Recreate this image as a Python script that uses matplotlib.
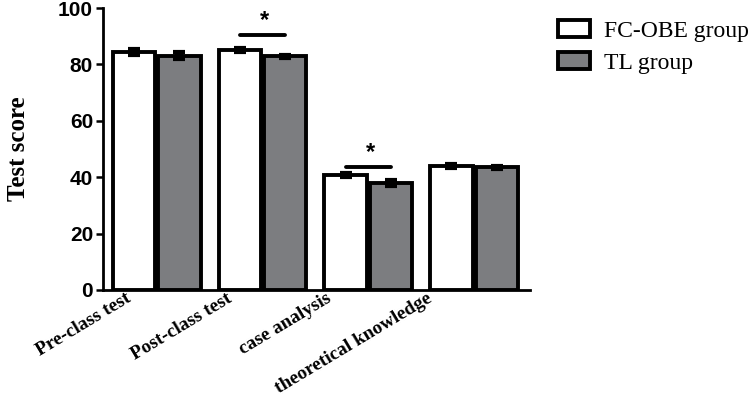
import matplotlib.pyplot as plt
import matplotlib.transforms as mtransforms
import numpy as np
from matplotlib.patches import Patch

categories = ["Pre-class test", "Post-class test", "case analysis", "theoretical knowledge"]
fc_obe = [84.4, 85.1, 40.8, 44.0]
fc_obe_err = [1.0, 0.8, 0.8, 0.6]
tl = [83.1, 82.9, 38.0, 43.5]
tl_err = [1.2, 0.6, 1.0, 0.6]
sig_groups = [1, 2]
sig_heights = [90.4, 43.6]
yticks = [0, 20, 40, 60, 80, 100]

serif = "Liberation Serif"
sans = "Liberation Sans"
gray = "#7c7d80"

fig = plt.figure(figsize=(7.5, 4.01), dpi=100)
ax = fig.add_axes([0.137, 0.277, 0.57, 0.703])

x = np.arange(len(categories))
w = 0.4
off = 0.215
lw = 2.8

ax.bar(x - off, fc_obe, w, color="white", edgecolor="black", linewidth=lw, zorder=2)
ax.bar(x + off, tl, w, color=gray, edgecolor="black", linewidth=lw, zorder=2)
ax.errorbar(x - off, fc_obe, yerr=fc_obe_err, fmt="none", ecolor="black",
            elinewidth=6, capsize=4.5, capthick=3, zorder=3)
ax.errorbar(x + off, tl, yerr=tl_err, fmt="none", ecolor="black",
            elinewidth=6, capsize=4.5, capthick=3, zorder=3)

# significance markers
for g, h in zip(sig_groups, sig_heights):
    ax.plot([g - off, g + off], [h, h], color="black", linewidth=2.8,
            solid_capstyle="round", clip_on=False)
    ax.text(g + 0.02, h + 1.2, "*", ha="center", va="bottom",
            fontsize=17, fontfamily=sans, fontweight="bold")

ax.set_xlim(-0.51, 3.53)
ax.set_ylim(0, 100)
ax.set_yticks(yticks)
ax.set_yticklabels([str(v) for v in yticks], fontfamily=sans, fontweight="bold", fontsize=15)
ax.set_xticks(x)
ax.set_xticklabels([])
ax.tick_params(axis="x", length=0)
ax.tick_params(axis="y", length=5, width=1.8, pad=2)

# category labels, drawn as text so they can sit left of the group centre
for i, (xi, name) in enumerate(zip(x, categories)):
    dx = (-31 - 5.7 * i) / 100
    shift = mtransforms.ScaledTranslation(dx, 0, fig.dpi_scale_trans)
    ax.text(xi, 0, name, transform=ax.get_xaxis_transform() + shift,
            rotation=31, rotation_mode="anchor", ha="right", va="top",
            fontfamily=serif, fontweight="bold", fontsize=13.9)

for s in ["top", "right"]:
    ax.spines[s].set_visible(False)
for s in ["left", "bottom"]:
    ax.spines[s].set_linewidth(2.0)

ax.set_ylabel("Test score", fontfamily=serif, fontweight="bold", fontsize=18, labelpad=20)

handles = [Patch(facecolor="white", edgecolor="black", linewidth=lw, label="FC-OBE group"),
           Patch(facecolor=gray, edgecolor="black", linewidth=lw, label="TL group")]
fig.legend(handles=handles, loc="upper left", bbox_to_anchor=(0.725, 0.985),
           frameon=False, prop={"family": serif, "size": 17},
           handlelength=1.35, handleheight=0.7, handletextpad=0.6, labelspacing=0.45,
           borderaxespad=0.2)

fig.savefig("out.png", dpi=100)
